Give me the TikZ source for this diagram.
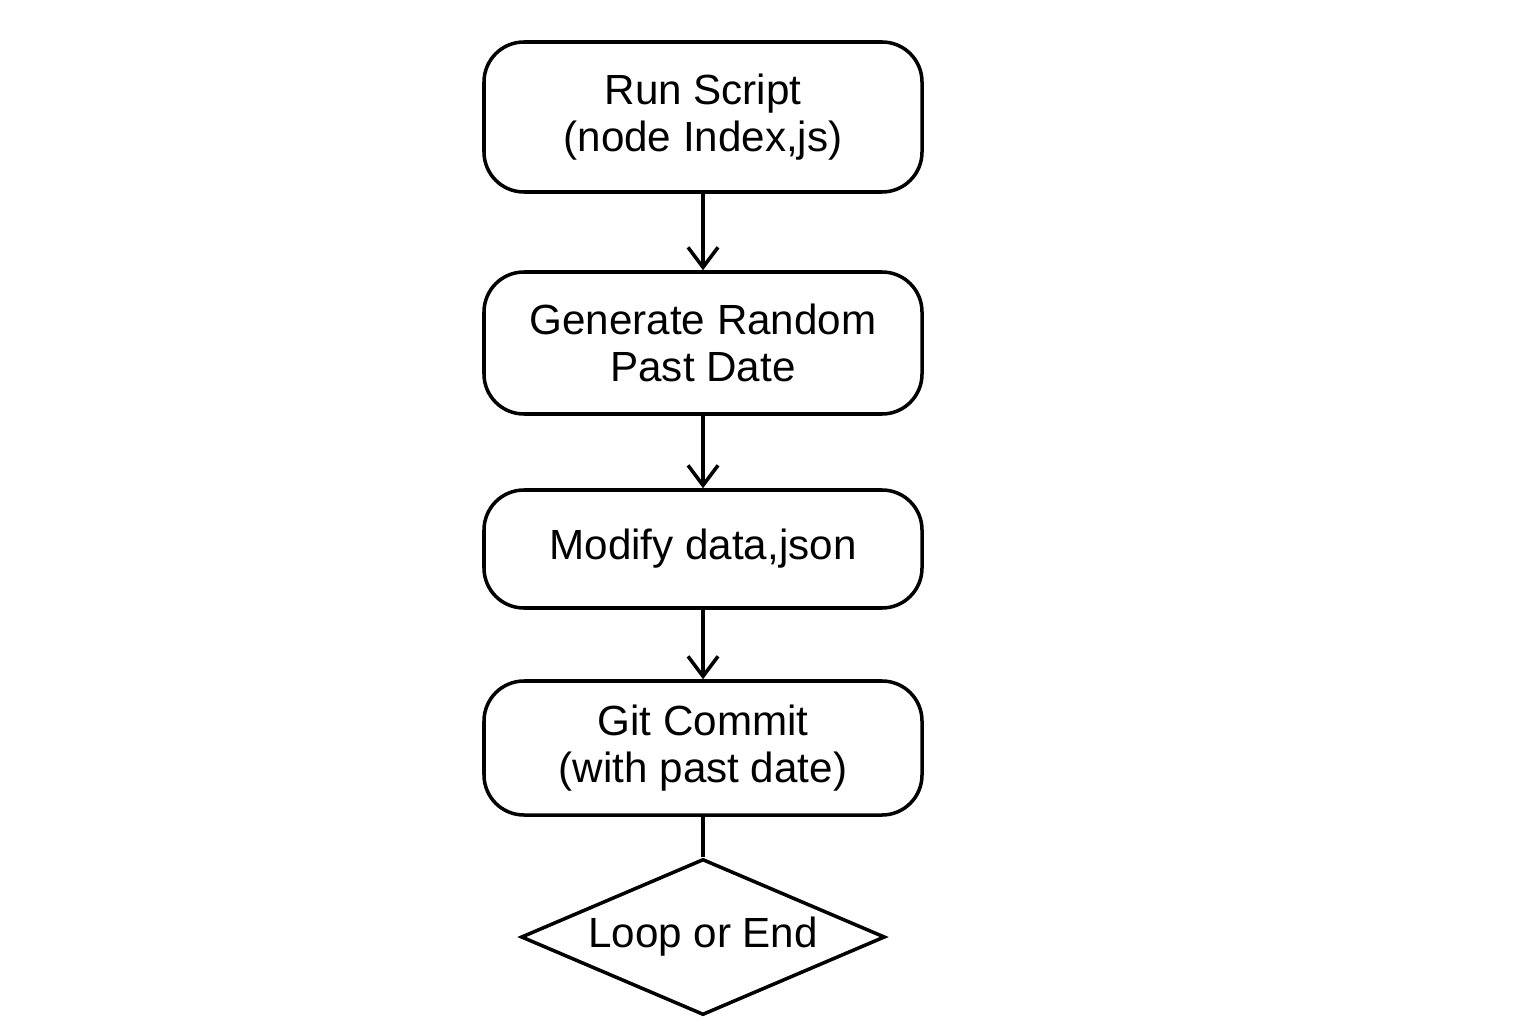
\documentclass[tikz,border=0pt]{standalone}
\usepackage{fontspec}
\setmainfont{Liberation Sans}
\usetikzlibrary{shapes.geometric,arrows.meta}

\begin{document}
\begin{tikzpicture}[>={Straight Barb[length=2mm,width=3mm]}]

    % Fixes the page to the size of the reference
    \useasboundingbox (0,0) rectangle (15.36,10.24);

    \tikzset{
        stepbox/.style={draw, line width=1pt, rounded corners=0.4cm,
            minimum width=4.38cm, align=center,
            font=\fontsize{12}{13.6}\selectfont},
        decision/.style={draw, line width=1pt, diamond, aspect=2.33,
            inner sep=0pt, minimum width=3.64cm, minimum height=1.56cm,
            font=\fontsize{12}{13.6}\selectfont},
        flow/.style={->, line width=1pt}
    }

    % Draws the steps of the script
    \node[stepbox, minimum height=1.50cm] (run) at (7.03,9.07) {Run Script\\(node Index,js)};
    \node[stepbox, minimum height=1.42cm] (gen) at (7.03,6.81) {Generate Random\\Past Date};
    \node[stepbox, minimum height=1.18cm] (modify) at (7.03,4.75) {Modify data,json};
    \node[stepbox, minimum height=1.34cm] (commit) at (7.03,2.76) {Git Commit\\(with past date)};

    % Draws the final decision
    \node[decision] (loop) at (7.03,0.87) {Loop or End};

    % Draws the connectors between the steps
    \draw[flow] (run) -- (gen);
    \draw[flow] (gen) -- (modify);
    \draw[flow] (modify) -- (commit);
    \draw[line width=1pt] (commit) -- (loop);

\end{tikzpicture}
\end{document}
